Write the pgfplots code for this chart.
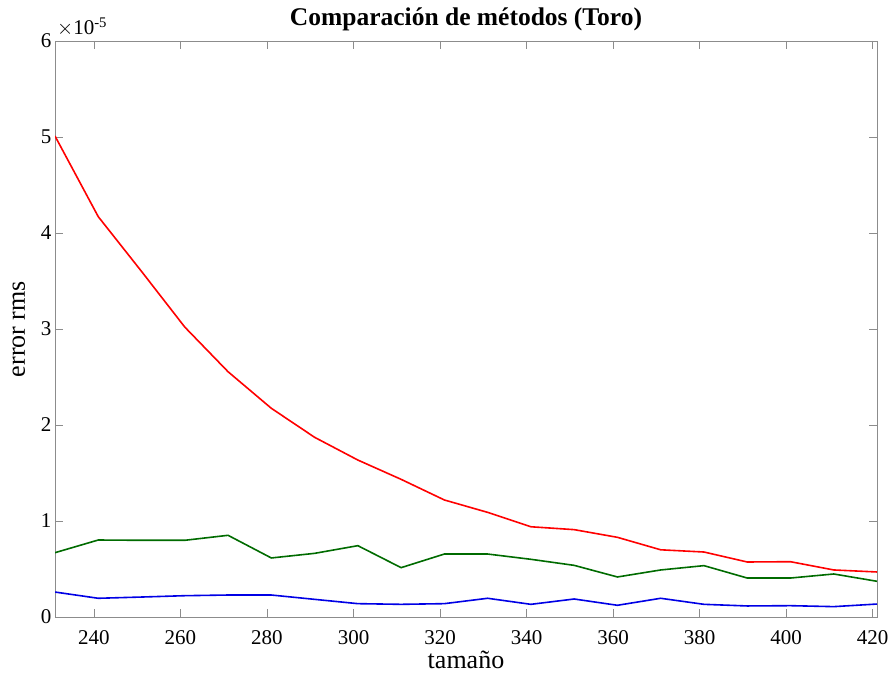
\documentclass[border=0pt]{standalone}
\usepackage{fontspec}
\setmainfont{Liberation Serif}
\usepackage{pgfplots}
\pgfplotsset{compat=1.18}
\definecolor{mgreen}{rgb}{0,0.42,0}
\definecolor{mred}{rgb}{1,0,0}
\definecolor{mblue}{rgb}{0,0,0.9}
\definecolor{axgray}{gray}{0.55}
\begin{document}
\begin{tikzpicture}
\useasboundingbox (-55pt,-60pt) rectangle (835pt,617pt);
\begin{axis}[
 name=ax,
 at={(0,0)}, anchor=south west,
 scale only axis, width=822pt, height=576pt,
 xmin=231, xmax=421, ymin=0, ymax=6,
 xtick={240,260,...,420}, ytick={0,1,...,6},
 tick align=inside, major tick length=8pt,
 axis line style={axgray, line width=0.8pt},
 tick style={axgray, line width=0.8pt},
 tick label style={font=\fontsize{21}{21}\selectfont, black},
 /pgf/number format/assume math mode=true,
 /pgf/number format/1000 sep={},
 xticklabel style={anchor=base, yshift=-27pt},
 xlabel={tamaño},
 xlabel style={at={(axis description cs:0.5,0)}, anchor=base, yshift=-51pt, font=\fontsize{26}{26}\selectfont},
 title={\textbf{Comparación de métodos (Toro)}},
 title style={at={(axis description cs:0.5,1)}, anchor=base, yshift=9pt, font=\fontsize{25.5}{25.5}\selectfont},
 every axis plot/.append style={line width=1.6pt, no markers},
 clip=true
]
\addplot[mred] coordinates {
(231,5.01) (241,4.17) (251,3.60) (261,3.02) (271,2.555) (281,2.174) (291,1.872)
(301,1.635) (311,1.434) (321,1.219) (331,1.09) (341,0.94) (351,0.91) (361,0.83)
(371,0.70) (381,0.677) (391,0.573) (401,0.576) (411,0.49) (421,0.469)};
\addplot[mgreen] coordinates {
(231,0.670) (241,0.802) (251,0.799) (261,0.799) (271,0.851) (281,0.615) (291,0.663)
(301,0.743) (311,0.514) (321,0.656) (331,0.656) (341,0.601) (351,0.538) (361,0.417)
(371,0.49) (381,0.535) (391,0.406) (401,0.406) (411,0.448) (421,0.372)};
\addplot[mblue] coordinates {
(231,0.26) (241,0.195) (251,0.208) (261,0.222) (271,0.229) (281,0.229) (291,0.184)
(301,0.139) (311,0.132) (321,0.139) (331,0.195) (341,0.132) (351,0.1875) (361,0.122)
(371,0.195) (381,0.132) (391,0.115) (401,0.118) (411,0.108) (421,0.135)};
\end{axis}
\node[anchor=base west, font=\fontsize{21}{21}\selectfont, inner sep=0pt] at ([xshift=2pt,yshift=6pt]ax.north west) {$\times$10\textsuperscript{-5}};
\node[rotate=90, anchor=base, inner sep=0pt, font=\fontsize{26}{26}\selectfont] at ([xshift=-30pt]ax.west) {error rms};
\end{tikzpicture}
\end{document}
